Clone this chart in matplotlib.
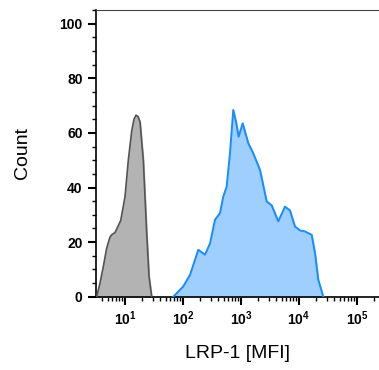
import matplotlib
matplotlib.use("Agg")
import matplotlib.pyplot as plt
import numpy as np
from matplotlib.ticker import LogLocator, MultipleLocator, NullFormatter

plt.rcParams['font.family'] = ['Liberation Sans', 'DejaVu Sans']
plt.rcParams['mathtext.fontset'] = 'custom'
plt.rcParams['mathtext.rm'] = 'Liberation Sans'
plt.rcParams['mathtext.bf'] = 'Liberation Sans:bold'

# isotype control (grey), log10 MFI vs count
ctrl_log = [0.512, 0.569, 0.63, 0.684, 0.74, 0.771, 0.828, 0.926, 1.0, 1.057,
            1.116, 1.155, 1.19, 1.225, 1.259, 1.316, 1.374, 1.414, 1.46]
ctrl_cnt = [0, 5, 11.5, 17.8, 21.8, 22.7, 23.5, 27.9, 36.6, 50,
            60.7, 65, 66.5, 66, 64, 49.9, 23.4, 7.5, 0]

# LRP-1 stained (blue)
lrp_log = [1.833, 2.005, 2.121, 2.207, 2.264, 2.379, 2.466, 2.552, 2.638, 2.695,
           2.753, 2.81, 2.867, 2.914, 2.96, 3.029, 3.126, 3.212, 3.328, 3.443,
           3.529, 3.643, 3.759, 3.845, 3.931, 4.017, 4.103, 4.219, 4.276, 4.333,
           4.419]
lrp_cnt = [0, 3.8, 8, 13.5, 17.2, 15.4, 19.5, 28.2, 30.6, 36.7,
           40.3, 52.5, 68.4, 64.1, 58.6, 63.5, 56.2, 52.5, 46.4, 34.9,
           33.5, 27.6, 33, 31.6, 25.7, 24.3, 23.9, 22.7, 16, 6.2,
           0]

xticks = [1e1, 1e2, 1e3, 1e4, 1e5]
xticklabels = [r'$\mathbf{10^{1}}$', r'$\mathbf{10^{2}}$', r'$\mathbf{10^{3}}$',
               r'$\mathbf{10^{4}}$', r'$\mathbf{10^{5}}$']
yticks = [0, 20, 40, 60, 80, 100]

fig = plt.figure(figsize=(3.79, 3.70), dpi=100)
ax = fig.add_axes([0.2525, 0.198, 0.7475, 0.775])

cx = 10 ** np.array(ctrl_log)
bx = 10 ** np.array(lrp_log)
ax.fill_between(cx, ctrl_cnt, 0, color='#b3b3b3', zorder=2)
ax.plot(cx, ctrl_cnt, color='#555555', lw=1.2, zorder=3, solid_joinstyle='round')
ax.fill_between(bx, lrp_cnt, 0, color='#9fcfff', zorder=2)
ax.plot(bx, lrp_cnt, color='#1a8cff', lw=1.4, zorder=3, solid_joinstyle='round')

ax.set_xscale('log')
ax.set_xlim(10 ** 0.495, 10 ** 5.38)
ax.set_ylim(0, 105)

ax.set_xticks(xticks)
ax.set_xticklabels(xticklabels, fontsize=10)
ax.xaxis.set_minor_locator(LogLocator(base=10, subs=np.arange(2, 10), numticks=20))
ax.xaxis.set_minor_formatter(NullFormatter())
ax.set_yticks(yticks)
ax.set_yticklabels([str(v) for v in yticks], fontsize=10, fontweight='bold')
ax.yaxis.set_minor_locator(MultipleLocator(5))

ax.tick_params(which='major', direction='out', length=6, width=1.5, colors='black')
ax.tick_params(which='minor', direction='out', length=3, width=1)
ax.tick_params(axis='x', which='major', pad=3)

ax.spines['right'].set_visible(False)
for s in ['left', 'bottom']:
    ax.spines[s].set_linewidth(1.2)
ax.spines['top'].set_linewidth(0.8)
ax.spines['top'].set_color('#444444')

ax.set_ylabel('Count', fontsize=14, labelpad=20)
ax.set_xlabel('LRP-1 [MFI]', fontsize=14, labelpad=12)

fig.savefig('out.png', dpi=100)
